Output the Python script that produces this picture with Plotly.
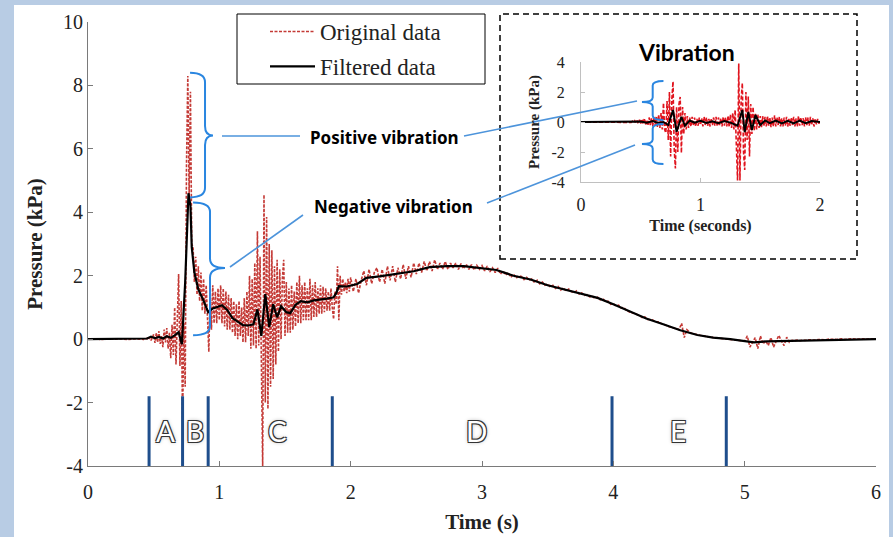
import plotly.graph_objects as go

# ---------------- data ----------------
# Original (unfiltered) pressure, kPa; sampled in segments (start time, step, values)
orig_pre_start, orig_pre_step = 0.00, 0.05
orig_pre_vals = [0.00, 0.01, -0.01, 0.01, 0.00, 0.01, -0.01, 0.01]

orig_mid_start, orig_mid_step = 0.40, 0.01
orig_mid_vals = [
    0.00, 0.01, -0.01, 0.02, 0.00, 0.03, -0.02, 0.05, -0.04, 0.08,
    0.15, -0.12, 0.20, -0.10, 0.25, -0.15, 0.10, -0.25, 0.30, -0.10,
    0.35, -0.30, 0.20, -0.60, 0.45, -0.50, 1.00, -0.80, 0.60, 2.05,
    -0.85, 1.20, -2.60, 0.50, -1.50, 5.50, 8.30, 4.50, 7.80, 3.00,
    2.90, 1.80, 2.60, 1.40, 2.30, 1.20, 2.10, 0.90, 1.90, 0.80,
    1.70, 0.40, -0.40, 1.50, 0.30, 1.70, 0.50, 1.50, 0.50, 1.60,
    0.60, 1.70, 0.50, 1.60, 0.40, 1.50, 0.30, 1.40, 0.30, 1.30,
    0.20, 1.20, 0.10, 1.10, 0.00, 1.20, 0.10, 1.00, -0.10, 1.30,
    -0.10, 1.50, 0.10, 2.00, -0.30, 1.90, -0.20, 2.40, -0.30, 3.40,
    -0.20, 2.60, -1.20, -4.00, 4.55, -2.00, 3.85, -2.20, 3.00, -1.50,
    2.80, -1.26, 2.30, -0.80, 2.50, -0.40, 2.20, 0.00, 1.90, 2.50,
    0.10, 1.80, 0.20, 1.60, 0.20, 1.70, 0.30, 1.50, 0.40, 1.80,
    0.50, 2.00, 0.50, 1.70, 0.60, 1.80, 0.60, 1.60, 0.60, 1.90,
    0.60, 1.70, 0.70, 1.80, 0.70, 1.60, 0.80, 1.70, 0.80, 1.65,
    0.85, 1.60, 0.90, 1.50, 0.90, 1.60, 1.00, 0.63, 1.50, 1.10,
    2.30, 0.60, 2.00, 1.40, 1.90, 1.50, 1.80, 1.45, 1.90, 1.50,
]

orig_end_start, orig_end_step = 2.00, 0.02
orig_end_vals = [
    1.95, 1.50, 1.90, 1.45, 1.85,  2.15, 1.70, 2.20, 1.75, 2.10,
    2.25, 1.80, 2.20, 1.75, 2.30,  1.85, 2.30, 1.80, 2.25, 1.90,
    2.35, 1.90, 2.30, 1.95, 2.40,  2.05, 2.40, 2.10, 2.45, 2.15,
    2.45, 2.15, 2.50, 2.20, 2.40,  2.20, 2.45, 2.20, 2.40, 2.25,
    2.40, 2.20, 2.38, 2.22, 2.36,  2.20, 2.35, 2.18, 2.33, 2.20,
    2.32, 2.15, 2.30, 2.12, 2.25,  2.10, 2.24, 2.05, 2.15, 2.02,
    2.10, 1.95, 2.05, 1.92, 2.00,  1.98, 1.88, 1.95, 1.85, 1.90,
    1.78, 1.86, 1.74, 1.80, 1.70,  1.74, 1.64, 1.70, 1.60, 1.66,
    1.55, 1.62, 1.52, 1.58, 1.50,  1.46, 1.52, 1.42, 1.46, 1.38,
    1.40, 1.33, 1.36, 1.28, 1.32,  1.24, 1.28, 1.18, 1.20, 1.10,
    1.12, 1.04, 1.07, 0.98, 1.00,  0.90, 0.86, 0.84, 0.80, 0.78,
    0.74, 0.68, 0.70, 0.62, 0.62,  0.60, 0.55, 0.55, 0.50, 0.48,
    0.44, 0.40, 0.38, 0.36, 0.32,  0.30, 0.50, 0.05, 0.30, 0.22,
    0.18, 0.15, 0.14, 0.12, 0.10,  0.09, 0.07, 0.06, 0.05, 0.04,
    0.03, 0.02, 0.01, 0.00, 0.00,  -0.01, -0.02, -0.03, -0.04, -0.05,
    -0.06, 0.10, -0.25, -0.10, 0.05,  -0.30, 0.10, -0.15, -0.05, -0.20,
    0.05, -0.25, -0.04, 0.12, -0.06,  -0.20, 0.06, -0.10, -0.04, -0.05,
    -0.03, -0.05, -0.03, -0.04, -0.02,  -0.03, -0.02, -0.03, -0.01, -0.02,
    -0.01, -0.02, 0.00, -0.01, 0.00,  -0.01, 0.00, 0.01, -0.01, 0.00,
    0.00, 0.01, 0.00, -0.01, 0.00,  0.01, 0.00, 0.00, 0.01, 0.00,
    0.00,
]

# Filtered pressure, kPa
filt_t = [0.00, 0.10, 0.20, 0.30, 0.40, 0.45, 0.48, 0.51, 0.54, 0.57, 0.60, 0.63, 0.66, 0.69,
          0.715, 0.74, 0.765, 0.78, 0.79, 0.81, 0.84, 0.875, 0.915, 0.95, 0.99, 1.02, 1.06,
          1.10, 1.14, 1.18, 1.22, 1.26, 1.29, 1.32, 1.35, 1.38, 1.41, 1.44, 1.47, 1.51, 1.54,
          1.58, 1.62, 1.67, 1.72, 1.77, 1.82, 1.87, 1.89, 1.91, 1.97, 2.05, 2.12, 2.22, 2.35,
          2.48, 2.60, 2.73, 2.86, 2.99, 3.11, 3.24, 3.37, 3.50, 3.62, 3.75, 3.88, 4.00, 4.13,
          4.25, 4.38, 4.51, 4.64, 4.76, 4.89, 5.00, 5.07, 5.17, 5.27, 5.40, 5.52, 5.70, 5.85, 6.00]
filt_p = [0.00, 0.00, 0.01, 0.00, 0.01, 0.02, 0.08, 0.03, 0.07, 0.02, 0.09, 0.04, 0.12, 0.22,
          -0.16, 1.80, 4.60, 4.20, 2.90, 2.10, 1.57, 1.26, 0.85, 0.97, 1.02, 1.07, 0.92,
          0.66, 0.55, 0.44, 0.43, 0.47, 0.94, 0.10, 1.42, 0.38, 1.10, 0.69, 1.04, 0.85, 0.82,
          1.08, 1.20, 1.16, 1.22, 1.24, 1.28, 1.32, 1.45, 1.67, 1.66, 1.74, 1.93, 1.98, 2.05,
          2.14, 2.27, 2.30, 2.30, 2.25, 2.18, 2.00, 1.88, 1.70, 1.58, 1.44, 1.30, 1.10, 0.86,
          0.65, 0.47, 0.28, 0.13, 0.05, 0.00, -0.05, -0.10, -0.07, -0.06, -0.04, -0.03, -0.01, 0.00, 0.00]

# Phase boundaries (s) and labels
phase_t = [0.465, 0.72, 0.915, 1.86, 3.99, 4.86]
phase_top = -1.8
phase_labels = ["A", "B", "C", "D", "E"]
phase_label_t = [0.59, 0.815, 1.44, 2.955, 4.49]
phase_label_p = -2.9

# Inset "Vibration" (pressure minus trend, kPa)
vib_pre_start, vib_pre_step = 0.00, 0.05
vib_pre_vals = [0.00, 0.00, 0.01, 0.00, -0.01, 0.00, 0.01, 0.00]
vib_start, vib_step = 0.40, 0.01
vib_vals = [
    0.00, 0.02, -0.03, 0.05, -0.04, 0.08, -0.06, 0.10, -0.12, 0.15,
    -0.10, 0.20, -0.15, 0.25, -0.20, 0.15, -0.25, 0.30, -0.20, 0.25,
    -0.30, 0.35, -0.25, 0.40, -0.35, 0.50, -0.40, 0.60, -0.50, 1.27,
    -0.50, -0.73, 1.40, -1.20, 2.00, -2.30, 1.50, 2.70, -1.80, -3.10,
    1.00, -2.00, 1.20, 1.67, -2.07, 1.00, -0.80, 0.60, -0.50, 0.40,
    -0.40, 0.30, -0.30, 0.35, -0.25, 0.30, -0.30, 0.20, -0.25, 0.30,
    -0.20, 0.25, -0.30, 0.35, -0.20, 0.30, -0.25, 0.20, -0.30, 0.25,
    -0.20, 0.30, -0.25, 0.35, -0.30, 0.30, -0.20, 0.25, -0.30, 0.35,
    -0.25, 0.30, -0.30, 0.40, -0.35, 0.50, -0.40, 0.60, -0.50, 0.80,
    -1.50, -3.90, 3.90, -3.90, 1.50, 2.60, -2.00, -3.20, 2.00, -1.20,
    1.70, -2.30, 1.20, -0.80, 1.00, -0.60, 0.60, -0.50, 0.50, -0.40,
    0.40, -0.35, 0.40, -0.30, 0.35, -0.30, 0.40, -0.25, 0.30, -0.35,
    0.30, -0.30, 0.45, -0.30, 0.30, -0.20, 0.35, -0.30, 0.25, -0.30,
    0.30, -0.25, 0.35, -0.30, 0.20, -0.25, 0.30, -0.20, 0.35, -0.30,
    0.25, -0.30, 0.40, -0.25, 0.30, -0.20, 0.25, -0.30, 0.30, -0.20,
    0.30, -0.25, 0.35, -0.20, 0.25, -0.30, 0.20, -0.15, 0.20, -0.10,
    0.00,
]
vib_filt_t = [0.00, 0.20, 0.40, 0.50, 0.55, 0.60, 0.65, 0.69, 0.73, 0.77, 0.80, 0.84, 0.87, 0.91,
              0.95, 1.00, 1.05, 1.10, 1.15, 1.20, 1.25, 1.31, 1.35, 1.37, 1.40, 1.43, 1.46, 1.50,
              1.54, 1.58, 1.63, 1.68, 1.73, 1.78, 1.83, 1.88, 1.93, 2.00]
vib_filt_p = [0.00, 0.00, 0.01, 0.03, -0.05, 0.06, -0.06, 0.00, -0.20, 0.80, -0.65, 0.35, -0.25, 0.10,
              -0.05, 0.08, -0.06, 0.05, -0.08, 0.06, -0.04, -0.25, 0.80, -0.67, 0.67, -0.53, 0.47, -0.20,
              0.10, -0.08, 0.10, -0.10, 0.08, -0.10, 0.10, -0.08, 0.06, 0.00]

# Tick labels
x_ticks = [0, 1, 2, 3, 4, 5, 6]
y_ticks = [-4, -2, 0, 2, 4, 6, 8, 10]
y_ticktext = ["-4", "-2", "0", "2", "4", "6", "8", "10"]
vib_x_ticks = [0, 1, 2]
vib_y_ticks = [-4, -2, 0, 2, 4]
vib_y_ticktext = ["-4", "-2", "0", "2", "4"]


def expand(segments):
    ts, vs = [], []
    for start, step, vals in segments:
        for i, v in enumerate(vals):
            ts.append(round(start + i * step, 4))
            vs.append(v)
    return ts, vs


orig_t, orig_p = expand([(orig_pre_start, orig_pre_step, orig_pre_vals),
                         (orig_mid_start, orig_mid_step, orig_mid_vals),
                         (orig_end_start, orig_end_step, orig_end_vals)])
vib_t, vib_p = expand([(vib_pre_start, vib_pre_step, vib_pre_vals),
                       (vib_start, vib_step, vib_vals)])

# ---------------- layout geometry (pixels) ----------------
W, H = 893, 537
L, R, T, B = 88, 876, 22, 466


def pxx(x):
    return (x - L) / (R - L)


def pxy(y):
    return (B - y) / (B - T)


SERIF = "Liberation Serif, Times New Roman, serif"
SANS = "Noto Sans, DejaVu Sans, sans-serif"
RED = "#c43a36"
BRACE = "#2a86e0"
CONN = "#4d94db"
AXIS = "#7a7a7a"

fig = go.Figure()
fig.add_trace(go.Scatter(x=orig_t, y=orig_p, mode="lines", name="Original data",
                         legendgroup="o",
                         line=dict(color=RED, width=1.6, dash="3px,1.5px")))
fig.add_trace(go.Scatter(x=filt_t, y=filt_p, mode="lines", name="Filtered data",
                         legendgroup="f",
                         line=dict(color="black", width=2.2)))

lx, ly = [], []
for t in phase_t:
    lx += [t, t, None]
    ly += [-4, phase_top, None]
fig.add_trace(go.Scatter(x=lx, y=ly, mode="lines", showlegend=False, hoverinfo="skip",
                         line=dict(color="#1f4e8c", width=3)))

fig.add_trace(go.Scatter(x=vib_t, y=vib_p, mode="lines", xaxis="x2", yaxis="y2",
                         showlegend=False, line=dict(color="#e0141e", width=1.6, dash="4px,2px")))
fig.add_trace(go.Scatter(x=vib_filt_t, y=vib_filt_p, mode="lines", xaxis="x2", yaxis="y2",
                         showlegend=False, line=dict(color="black", width=2)))


def brace(xe, xv, xc, ytop, ycusp, ybot, r):
    return (f"M {xe},{ytop} Q {xv},{ytop} {xv},{ytop - r} L {xv},{ycusp + r} "
            f"Q {xv},{ycusp} {xc},{ycusp} Q {xv},{ycusp} {xv},{ycusp - r} "
            f"L {xv},{ybot + r} Q {xv},{ybot} {xe},{ybot}")


shapes = [
    dict(type="rect", xref="paper", yref="paper", x0=pxx(14), x1=pxx(889), y0=pxy(540), y1=pxy(5),
         fillcolor="white", line=dict(width=0), layer="below"),
    dict(type="rect", xref="paper", yref="paper", x0=pxx(237), x1=pxx(485), y0=pxy(84), y1=pxy(14),
         line=dict(color="black", width=1)),
    dict(type="rect", xref="paper", yref="paper", x0=pxx(500), x1=pxx(857), y0=pxy(259), y1=pxy(14),
         line=dict(color="black", width=1.5, dash="6px,4px")),
    dict(type="path", xref="x", yref="y", path=brace(0.777, 0.891, 0.952, 8.4, 6.42, 4.47, 0.3),
         line=dict(color=BRACE, width=2)),
    dict(type="path", xref="x", yref="y", path=brace(0.80, 0.929, 1.043, 4.31, 2.24, 0.12, 0.3),
         line=dict(color=BRACE, width=2)),
    dict(type="path", xref="x2", yref="y2", path=brace(0.69, 0.60, 0.51, 2.73, 1.33, 0.13, 0.3),
         line=dict(color=BRACE, width=2)),
    dict(type="path", xref="x2", yref="y2", path=brace(0.69, 0.60, 0.51, -0.13, -1.47, -2.8, 0.3),
         line=dict(color=BRACE, width=2)),
]
for (x0, y0, x1, y1) in [(222, 136, 300, 136), (230, 267, 303, 215),
                         (464, 136, 637, 101), (487, 203, 635, 145)]:
    shapes.append(dict(type="line", xref="paper", yref="paper", x0=pxx(x0), y0=pxy(y0),
                       x1=pxx(x1), y1=pxy(y1), line=dict(color=CONN, width=1.6)))

annotations = [
    dict(text="<b>Positive vibration</b>", xref="paper", yref="paper", x=pxx(384), y=pxy(137),
         xanchor="center", yanchor="middle",
         showarrow=False, font=dict(family=SANS, size=17, color="black")),
    dict(text="<b>Negative vibration</b>", xref="paper", yref="paper", x=pxx(393), y=pxy(207),
         xanchor="center", yanchor="middle",
         showarrow=False, font=dict(family=SANS, size=17, color="black")),
    dict(text="<b>Vibration</b>", xref="paper", yref="paper", x=pxx(686), y=pxy(52),
         xanchor="center", yanchor="middle",
         showarrow=False, font=dict(family="Lato, sans-serif", size=23, color="black")),
]
for lab, t in zip(phase_labels, phase_label_t):
    annotations.append(dict(text=lab, x=t, y=phase_label_p, xref="x", yref="y", showarrow=False,
                            xanchor="center", yanchor="middle",
                            font=dict(family="Lato, sans-serif", size=28, color="white",
                                      shadow="-1px -1px 0 #333, 1px -1px 0 #333, -1px 1px 0 #333, "
                                             "1px 1px 0 #333, 0 0 4px #999")))

axis_common = dict(showgrid=False, zeroline=False, showline=True, linecolor=AXIS, linewidth=1,
                   ticks="inside", tickcolor=AXIS, ticklen=5, tickwidth=1, automargin=False)
inset_common = dict(showgrid=False, zeroline=False, showline=True, linecolor="#c0c0c0",
                    ticks="inside", tickcolor="#c0c0c0", ticklen=4, automargin=False)

fig.update_layout(
    width=W, height=H,
    margin=dict(l=L, r=W - R, t=T, b=H - B, autoexpand=False),
    paper_bgcolor="#b8cce4", plot_bgcolor="white",
    font=dict(family=SERIF, color="#222"),
    showlegend=True,
    legend=dict(x=pxx(265), y=pxy(10), xanchor="left", yanchor="top", bgcolor="rgba(0,0,0,0)",
                font=dict(family=SERIF, size=23, color="#222"), tracegroupgap=2, itemwidth=45),
    xaxis=dict(range=[0, 6], tickvals=x_ticks, tickfont=dict(size=20), ticklabelstandoff=8,
               title=dict(text="<b>Time (s)</b>", font=dict(size=21), standoff=12), **axis_common),
    yaxis=dict(range=[-4, 10], tickvals=y_ticks, ticktext=y_ticktext, tickfont=dict(size=20),
               title=dict(text="<b>Pressure (kPa)</b>", font=dict(size=21), standoff=14), **axis_common),
    xaxis2=dict(domain=[pxx(581), pxx(820)], anchor="y2", range=[0, 2], tickvals=vib_x_ticks,
                tickfont=dict(size=18), ticklabelstandoff=6,
                title=dict(text="<b>Time (seconds)</b>", font=dict(size=16), standoff=6),
                **inset_common),
    yaxis2=dict(domain=[pxy(182), pxy(62)], anchor="x2", range=[-4, 4], tickvals=vib_y_ticks,
                ticktext=vib_y_ticktext, tickfont=dict(size=16), ticklabelstandoff=12,
                title=dict(text="<b>Pressure (kPa)</b>", font=dict(size=15), standoff=8),
                **inset_common),
    shapes=shapes, annotations=annotations,
)

fig.write_html("out.html", config={"displayModeBar": False},
               post_script="document.body.style.margin='0';")
